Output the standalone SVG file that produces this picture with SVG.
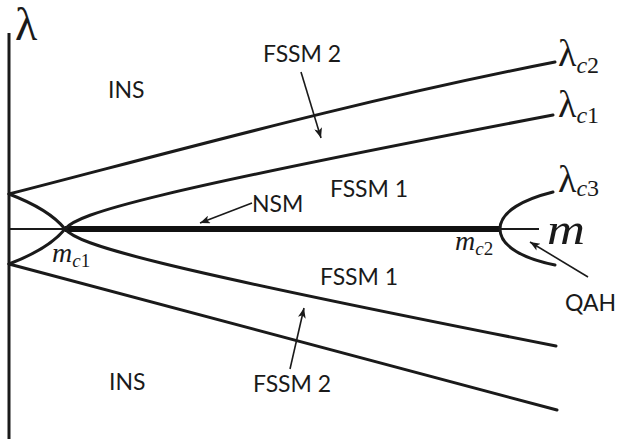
<svg xmlns="http://www.w3.org/2000/svg" width="625" height="439" viewBox="0 0 625 439">
<defs>
<style>
.crv{fill:none;stroke:#1a1a1a;stroke-width:3;stroke-linecap:round}
.arr{fill:none;stroke:#1a1a1a;stroke-width:1.6;marker-end:url(#ah)}
.lbl{font-family:Lato,"Open Sans",sans-serif;font-size:23px;fill:#1a1a1a}
.math{font-family:"Liberation Serif","DejaVu Serif",serif;fill:#1a1a1a}
.it{font-style:italic}
</style>
<marker id="ah" viewBox="0 0 10 8" refX="10" refY="4" markerWidth="11" markerHeight="8" markerUnits="userSpaceOnUse" orient="auto">
<path d="M0,0 L10,4 L0,8 L2.5,4 Z" fill="#1a1a1a"/>
</marker>
</defs>
<rect width="625" height="439" fill="#ffffff"/>
<g id="axes">
<line x1="9" y1="33" x2="9" y2="439" stroke="#1a1a1a" stroke-width="3"/>
<line x1="9" y1="229" x2="539" y2="229" stroke="#1a1a1a" stroke-width="2.2"/>
<line x1="65" y1="229" x2="500" y2="229" stroke="#111" stroke-width="6"/>
<text class="math" x="15" y="40" font-size="46">λ</text>
<text class="math it" x="547" y="244" font-size="44" textLength="38" lengthAdjust="spacingAndGlyphs">m</text>
</g>
<g id="curves">
<path class="crv" d="M9,194 C180,150 360,100 555,62"/>
<path class="crv" d="M9,264 C180,308 360,358 557,410"/>
<path class="crv" d="M9,194 C30,202 52,213 65,229 C78,245 150,266 556,346"/>
<path class="crv" d="M9,264 C30,256 52,245 65,229 C78,213 150,192 553,115"/>
<path class="crv" d="M553,192 C525,199 500,211 500,229 C500,247 525,259 555,265"/>
</g>
<g id="curve-labels">
<text class="math" x="558" y="66" font-size="38">λ<tspan class="it" font-size="24" dy="7">c</tspan><tspan font-size="24">2</tspan></text>
<text class="math" x="558" y="117" font-size="38">λ<tspan class="it" font-size="24" dy="6">c</tspan><tspan font-size="24">1</tspan></text>
<text class="math" x="558" y="192" font-size="38">λ<tspan class="it" font-size="24" dy="4">c</tspan><tspan font-size="24">3</tspan></text>
<text class="math it" x="52" y="262" font-size="28">m<tspan font-size="19" dy="5">c</tspan><tspan font-size="19" font-style="normal">1</tspan></text>
<text class="math it" x="455" y="250" font-size="28">m<tspan font-size="19" dy="5">c</tspan><tspan font-size="19" font-style="normal">2</tspan></text>
</g>
<g id="node-ins-top"><text class="lbl" x="108" y="98">INS</text></g>
<g id="node-ins-bottom"><text class="lbl" x="109" y="390">INS</text></g>
<g id="node-fssm2-top"><text class="lbl" x="263" y="62">FSSM 2</text></g>
<g id="node-fssm2-bottom"><text class="lbl" x="253" y="392">FSSM 2</text></g>
<g id="node-fssm1-top"><text class="lbl" x="330" y="197">FSSM 1</text></g>
<g id="node-fssm1-bottom"><text class="lbl" x="320" y="285">FSSM 1</text></g>
<g id="node-nsm"><text class="lbl" x="252" y="212">NSM</text></g>
<g id="node-qah"><text class="lbl" x="565" y="311">QAH</text></g>
<g id="connectors">
<line class="arr" x1="301" y1="72" x2="321" y2="138"/>
<line class="arr" x1="290" y1="369" x2="304" y2="308"/>
<line class="arr" x1="252" y1="203" x2="200" y2="223"/>
<line class="arr" x1="588" y1="277" x2="530" y2="242"/>
</g>
</svg>
